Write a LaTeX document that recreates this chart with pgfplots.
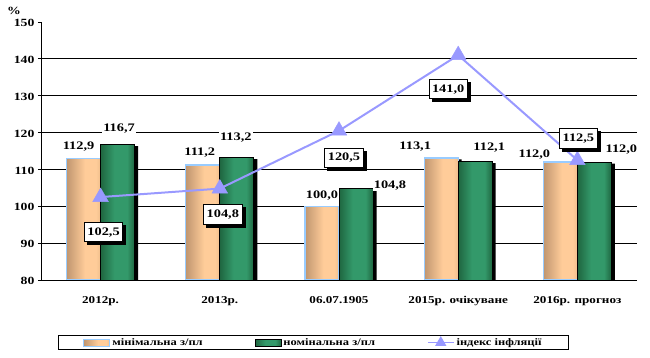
\documentclass[border=0pt]{standalone}
\usepackage{fontspec}
\setmainfont{Liberation Serif}[FakeStretch=1.25]
\usepackage{pgfplots}
\pgfplotsset{compat=1.18}
\usepackage{pgfplotstable}
\usetikzlibrary{shadows}

\definecolor{lineblue}{HTML}{9999FF}
\definecolor{o1}{HTML}{C09670}
\definecolor{o2}{HTML}{FFCC99}
\definecolor{o3}{HTML}{F0BE8C}
\definecolor{g1}{HTML}{1F6640}
\definecolor{g2}{HTML}{33996A}
\definecolor{bordblue}{HTML}{99CCFF}

\pgfdeclarehorizontalshading{orangebar}{100bp}{color(0bp)=(o1); color(25bp)=(o1); color(52bp)=(o2); color(68bp)=(o2); color(75bp)=(o3); color(100bp)=(o3)}
\pgfdeclarehorizontalshading{greenbar}{100bp}{color(0bp)=(g1); color(25bp)=(g1); color(45bp)=(g2); color(64bp)=(g2); color(75bp)=(g1); color(100bp)=(g1)}

\pgfplotstableread{
x y dx dy
0 112.9 -22 12.5
1 111.2 -20 12
2 100.0 -17 11
3 113.1 -43 11
4 112.0 -43 7
}\minimal
\pgfplotstableread{
x y dx dy
0 116.7 18.5 16.5
1 113.2 16 20
2 104.8 51 3
3 112.1 31 14.5
4 112.0 44 12
}\nominal
\pgfplotstableread{
x y dx dy
0 102.5 3 -35
1 104.8 3 -26
2 120.5 5 -27
3 141.0 -10 -34
4 112.5 1 22
}\inflation

\pgfplotsset{
  vallabel/.style={
    nodes near coords={\pgfmathprintnumber[fixed, fixed zerofill, precision=1, use comma]{\pgfplotspointmeta}},
    point meta=y,
    visualization depends on={\thisrow{dx}\as\dx},
    visualization depends on={\thisrow{dy}\as\dy},
  },
  minbar/.style={ybar, bar width=34pt, bar shift=-17pt, draw=bordblue, line width=1.3pt, shade, shading=orangebar},
  nombar/.style={ybar, bar width=34pt, bar shift=17pt, draw=black, line width=0.8pt, shade, shading=greenbar},
  barlabel/.style={nodes near coords style={anchor=center, xshift=\dx pt, yshift=\dy pt, fill=white, inner sep=1pt, text=black,
    font=\bfseries\fontsize{11.5}{13}\selectfont}},
}

\begin{document}
\begin{tikzpicture}[font=\bfseries\fontsize{11}{13}\selectfont]
\begin{axis}[
  scale only axis, width=596pt, height=258pt,
  xmin=-0.5, xmax=4.5, ymin=80, ymax=150,
  axis x line*=bottom, axis y line*=left,
  axis line style={black, line width=0.9pt, -},
  xtick={0,...,4},
  xticklabels={2012р., 2013р., 06.07.1905, 2015р. очікуване, 2016р. прогноз},
  xtick style={draw=none},
  xticklabel style={yshift=-10pt, font=\bfseries\fontsize{10.5}{12}\selectfont},
  extra x ticks={-0.5,0.5,1.5,2.5,3.5,4.5},
  extra x tick labels={},
  extra x tick style={tick style={draw=black, line width=0.8pt}, major tick length=5pt, tick align=outside},
  ytick={80,90,...,140},
  extra y ticks={150},
  extra y tick style={grid=none},
  ymajorgrids,
  major grid style={black, line width=0.8pt},
  ytick style={black, line width=0.8pt},
  tick align=outside, major tick length=3pt,
  /pgf/number format/assume math mode=true,
  yticklabel style={/pgf/number format/fixed, yshift=-1pt},
  legend style={at={(rel axis cs:0.0285,-0.213)}, anchor=north west,
    legend columns=3, draw=black, line width=0.8pt,
    inner xsep=25pt, inner ysep=1pt,
    /tikz/every even column/.append style={column sep=50pt},
    font=\bfseries\fontsize{10}{12}\selectfont},
  legend cell align=left,
  extra description/.code={\node at (rel axis cs:0,1) [xshift=-27pt, yshift=11pt] {\%};},
]
% shadows
\addplot[ybar, bar width=34pt, bar shift=-13.5pt, fill=black, draw=none, forget plot]
  table[x=x, y expr=\thisrow{y}-0.4] {\minimal};
\addplot[ybar, bar width=34pt, bar shift=20.5pt, fill=black, draw=none, forget plot]
  table[x=x, y expr=\thisrow{y}-0.4] {\nominal};
% bars, one plot per bar so that each bar gets its own shading
\pgfplotsinvokeforeach{0,...,4}{
  \addplot[minbar, forget plot, restrict x to domain=#1:#1, vallabel, barlabel]
    table[x=x, y=y] {\minimal};
  \addplot[nombar, forget plot, restrict x to domain=#1:#1, vallabel, barlabel]
    table[x=x, y=y] {\nominal};
}
\addlegendimage{legend image code/.code={\draw[draw=bordblue, line width=1pt, shade, shading=orangebar] (0pt,-3.5pt) rectangle (26pt,3.5pt);}}
\addlegendentry{мінімальна з/пл}
\addlegendimage{legend image code/.code={\draw[draw=black, line width=0.6pt, shade, shading=greenbar] (0pt,-3.5pt) rectangle (26pt,3.5pt);}}
\addlegendentry{номінальна з/пл}
% inflation line
\addplot[color=lineblue, line width=2pt, mark=triangle*, mark size=9pt,
  mark options={fill=lineblue, draw=lineblue, line width=0.5pt},
  vallabel,
  nodes near coords style={anchor=center, xshift=\dx pt, yshift=\dy pt, draw=black, fill=white, text=black,
    line width=0.8pt, inner xsep=3pt, inner ysep=5pt,
    font=\bfseries\fontsize{11.5}{13}\selectfont,
    drop shadow={shadow xshift=3pt, shadow yshift=-3pt, fill=black, opacity=1}},
  legend image code/.code={\draw[color=lineblue, line width=1.5pt] (0pt,0pt) -- (26pt,0pt);
    \fill[lineblue] (13pt,0pt) ++(90:4.5pt) -- ++(-120:7.8pt) -- ++(0:7.8pt) -- cycle;}]
  table[x=x, y=y] {\inflation};
\addlegendentry{індекс інфляції}
\end{axis}
\pgfresetboundingbox
\path[use as bounding box] (-41pt,-78pt) rectangle (609pt,280pt);
\end{tikzpicture}
\end{document}
